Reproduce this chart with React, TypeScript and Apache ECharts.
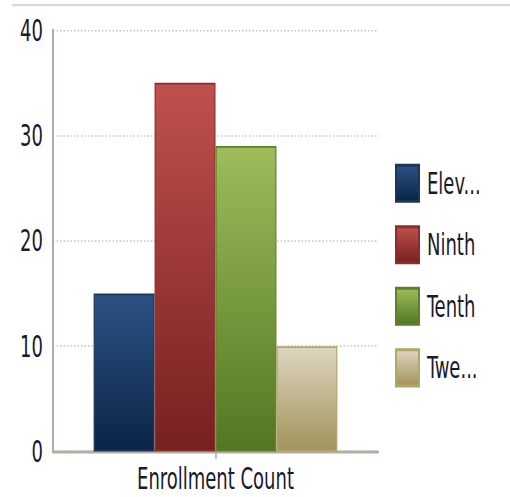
import React, { useEffect, useRef } from "react";
import * as echarts from "echarts";

const categories = ["Enrollment Count"];
const seriesNames = ["Eleventh", "Ninth", "Tenth", "Twelfth"];
const legendLabels = ["Elev...", "Ninth", "Tenth", "Twe..."];
const seriesValues = [15, 35, 29, 10];
const yTicks = { min: 0, max: 40, interval: 10 };

const topColors = ["#2c5283", "#c0504d", "#9dbd5b", "#ddd6c0"];
const bottomColors = ["#0b2447", "#752120", "#537621", "#a2935a"];
const borderColors = ["#1c3658", "#8a2e2b", "#5f7f2c", "#b3a467"];

const FONT = "'DejaVu Sans Condensed', 'DejaVu Sans', sans-serif";
const W = 510;
const H_FINAL = 497;
const STRETCH = 1.5;
const H = Math.round(H_FINAL / STRETCH);

export default function App() {
  const ref = useRef<HTMLDivElement>(null);
  useEffect(() => {
    if (!ref.current) return;
    const chart = echarts.init(ref.current, undefined, { renderer: "svg" });
    const labelMap: Record<string, string> = {};
    seriesNames.forEach((n, i) => (labelMap[n] = legendLabels[i]));
    chart.setOption({
      animation: false,
      backgroundColor: "#ffffff",
      textStyle: { fontFamily: FONT },
      graphic: [
        {
          type: "rect",
          shape: { x: 12, y: 2.6, width: 498, height: 1.6 },
          style: { fill: "#d8d8d8" },
          silent: true,
        },
      ],
      grid: { left: 53, right: 132, top: 20, bottom: H - 300.7 },
      legend: {
        orient: "vertical",
        left: 395,
        top: 109,
        padding: 0,
        itemWidth: 23,
        itemHeight: 24,
        itemGap: 15,
        icon: "rect",
        data: seriesNames,
        formatter: (n: string) => labelMap[n] ?? n,
        textStyle: {
          fontFamily: FONT,
          fontSize: 20,
          color: "#1a1a2c",
          padding: [0, 0, 0, 3],
        },
      },
      xAxis: {
        type: "category",
        data: categories,
        axisLine: { show: true, lineStyle: { color: "#b3aea2", width: 2 } },
        axisTick: { show: true, alignWithLabel: true, length: 5, lineStyle: { color: "#b3aea2", width: 1.5 } },
        axisLabel: { fontFamily: FONT, fontSize: 20, color: "#1a1a2c", margin: 8 },
        splitLine: { show: false },
      },
      yAxis: {
        type: "value",
        min: yTicks.min,
        max: yTicks.max,
        interval: yTicks.interval,
        axisLine: { show: true, lineStyle: { color: "#b3aea2", width: 2 } },
        axisTick: { show: false },
        axisLabel: { fontFamily: FONT, fontSize: 20, color: "#1a1a2c", margin: 10 },
        splitLine: { show: true, lineStyle: { color: "#c4c4c4", type: [1.5, 2], width: 1 } },
      },
      series: seriesNames.map((name, i) => ({
        name,
        type: "bar",
        data: [seriesValues[i]],
        barGap: "0%",
        barCategoryGap: "25%",
        itemStyle: {
          color: new echarts.graphic.LinearGradient(0, 0, 0, 1, [
            { offset: 0, color: topColors[i] },
            { offset: 1, color: bottomColors[i] },
          ]),
          borderColor: borderColors[i],
          borderWidth: 1.2,
        },
      })),
    });
    return () => chart.dispose();
  }, []);
  return (
    <div
      style={{
        position: "absolute",
        left: 0,
        top: 0,
        width: W,
        height: H_FINAL,
        overflow: "hidden",
        background: "#fff",
      }}
    >
      <div
        ref={ref}
        style={{
          width: W,
          height: H,
          transform: `scaleY(${H_FINAL / H})`,
          transformOrigin: "top left",
        }}
      />
    </div>
  );
}
